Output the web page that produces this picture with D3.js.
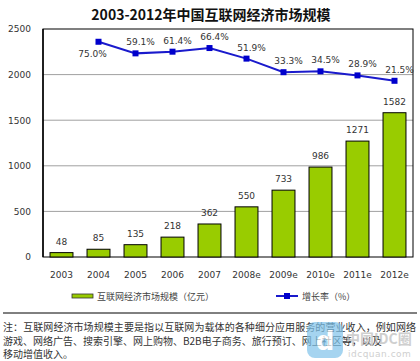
<!DOCTYPE html>
<html>
<head>
<meta charset="utf-8">
<script src="https://cdn.jsdelivr.net/npm/d3@7"></script>
<style>
  body { margin: 0; background: #fff; }
  text { font-family: "DejaVu Sans", "Noto Sans CJK SC", sans-serif; }
  .cjk { font-family: "Noto Sans CJK SC", sans-serif; }
</style>
</head>
<body>
<script>
let years = ["2003","2004","2005","2006","2007","2008e","2009e","2010e","2011e","2012e"];
let marketSize = [48,85,135,218,362,550,733,986,1271,1582];
let growthYears = ["2004","2005","2006","2007","2008e","2009e","2010e","2011e","2012e"];
let growthRate = [75.0,59.1,61.4,66.4,51.9,33.3,34.5,28.9,21.5];
let yTicks = [0,500,1000,1500,2000,2500];

const width = 420, height = 361;
const plotLeft = 43, plotRight = 413, plotTop = 29, plotBottom = 257;

const svg = d3.select("body").append("svg")
  .attr("width", width)
  .attr("height", height);

svg.append("text")
  .attr("class", "cjk")
  .attr("x", 211)
  .attr("y", 20)
  .attr("text-anchor", "middle")
  .attr("font-size", "14px")
  .attr("font-weight", "bold")
  .attr("fill", "#111")
  .text("2003-2012年中国互联网经济市场规模");

const x = d3.scaleBand().domain(years).range([plotLeft, plotRight]).paddingInner(0.38).paddingOuter(0.19);
const y = d3.scaleLinear().domain([0, 2500]).range([plotBottom, plotTop]);
// hidden secondary axis for the growth rate
const y2 = d3.scaleLinear().domain([-220, 92.5]).range([plotBottom, plotTop]);

// grid lines
svg.append("g")
  .selectAll("line")
  .data(yTicks.slice(1, -1))
  .enter()
  .append("line")
  .attr("x1", plotLeft).attr("x2", plotRight)
  .attr("y1", d => y(d)).attr("y2", d => y(d))
  .attr("stroke", "#a0a0a0")
  .attr("stroke-width", 1);

// plot frame
svg.append("rect")
  .attr("x", plotLeft).attr("y", plotTop)
  .attr("width", plotRight - plotLeft).attr("height", plotBottom - plotTop)
  .attr("fill", "none")
  .attr("stroke", "#000")
  .attr("stroke-width", 1);
svg.append("line")
  .attr("x1", plotLeft).attr("x2", plotLeft).attr("y1", plotTop).attr("y2", plotBottom)
  .attr("stroke", "#000").attr("stroke-width", 1.5);

// y axis labels
const yAxis = svg.append("g")
  .attr("transform", "translate(" + (plotLeft - 12) + ",0)")
  .call(d3.axisLeft(y).tickValues(yTicks).tickFormat(d3.format("d")).tickSize(0).tickPadding(0));
yAxis.select(".domain").remove();
yAxis.selectAll("text").attr("font-size", "9px").attr("fill", "#333");

// x axis labels
const xAxis = svg.append("g")
  .attr("transform", "translate(0," + plotBottom + ")")
  .call(d3.axisBottom(x).tickSize(0).tickPadding(15));
xAxis.select(".domain").remove();
xAxis.selectAll("text").attr("font-size", "9px").attr("fill", "#333");

// bars
svg.selectAll("rect.bar")
  .data(marketSize)
  .enter()
  .append("rect")
  .attr("class", "bar")
  .attr("x", (d, i) => x(years[i]))
  .attr("y", d => y(d))
  .attr("width", x.bandwidth())
  .attr("height", d => plotBottom - y(d))
  .attr("fill", "#99cc00")
  .attr("stroke", "#000")
  .attr("stroke-width", 1);

svg.selectAll("text.barlabel")
  .data(marketSize)
  .enter()
  .append("text")
  .attr("class", "barlabel")
  .attr("x", (d, i) => x(years[i]) + x.bandwidth() / 2)
  .attr("y", d => y(d) - 8)
  .attr("text-anchor", "middle")
  .attr("font-size", "9px")
  .attr("fill", "#333")
  .text(d => d);

// growth line
const cx = (d, i) => x(growthYears[i]) + x.bandwidth() / 2;
const line = d3.line()
  .x(cx)
  .y(d => y2(d));

svg.append("path")
  .datum(growthRate)
  .attr("d", line)
  .attr("fill", "none")
  .attr("stroke", "#1a1acc")
  .attr("stroke-width", 2);

svg.selectAll("rect.marker")
  .data(growthRate)
  .enter()
  .append("rect")
  .attr("class", "marker")
  .attr("x", (d, i) => cx(d, i) - 3)
  .attr("y", d => y2(d) - 3)
  .attr("width", 6)
  .attr("height", 6)
  .attr("fill", "#0000cc");

svg.selectAll("text.ratelabel")
  .data(growthRate)
  .enter()
  .append("text")
  .attr("class", "ratelabel")
  .attr("x", (d, i) => cx(d, i) + (i === 0 ? -6 : 5))
  .attr("y", (d, i) => i === 0 ? y2(d) + 15 : y2(d) - 8)
  .attr("text-anchor", "middle")
  .attr("font-size", "9px")
  .attr("fill", "#333")
  .text(d => d.toFixed(1) + "%");

// legend
svg.append("rect")
  .attr("x", 72).attr("y", 294)
  .attr("width", 21).attr("height", 4)
  .attr("fill", "#99cc00")
  .attr("stroke", "#333")
  .attr("stroke-width", 0.8);
svg.append("text")
  .attr("class", "cjk")
  .attr("x", 97).attr("y", 300)
  .attr("font-size", "9px")
  .attr("fill", "#444")
  .text("互联网经济市场规模（亿元）");

svg.append("line")
  .attr("x1", 276).attr("x2", 298)
  .attr("y1", 296).attr("y2", 296)
  .attr("stroke", "#1a1acc").attr("stroke-width", 2);
svg.append("rect")
  .attr("x", 284).attr("y", 293)
  .attr("width", 6).attr("height", 6)
  .attr("fill", "#0000cc");
svg.append("text")
  .attr("class", "cjk")
  .attr("x", 302).attr("y", 300)
  .attr("font-size", "9px")
  .attr("fill", "#444")
  .text("增长率（%）");

// separator
svg.append("line")
  .attr("x1", 3).attr("x2", 417)
  .attr("y1", 313).attr("y2", 313)
  .attr("stroke", "#000").attr("stroke-width", 1);

// note
svg.append("text")
  .attr("class", "cjk")
  .attr("x", 3).attr("y", 331)
  .attr("font-size", "10px")
  .attr("fill", "#333")
  .attr("textLength", 413)
  .attr("lengthAdjust", "spacing")
  .text("注：互联网经济市场规模主要是指以互联网为载体的各种细分应用服务的营业收入，例如网络");
svg.append("text")
  .attr("class", "cjk")
  .attr("x", 3).attr("y", 345)
  .attr("font-size", "10px")
  .attr("fill", "#333")
  .text("游戏、网络广告、搜索引擎、网上购物、B2B电子商务、旅行预订、网上社区等，以及");
svg.append("text")
  .attr("class", "cjk")
  .attr("x", 3).attr("y", 358)
  .attr("font-size", "10px")
  .attr("fill", "#333")
  .text("移动增值收入。");

// watermark
const wm = svg.append("g").attr("opacity", 0.7);
wm.append("rect")
  .attr("x", 307).attr("y", 322)
  .attr("width", 36).attr("height", 36)
  .attr("rx", 8)
  .attr("fill", "#7fc3ea");
wm.append("text")
  .attr("x", 325).attr("y", 350)
  .attr("text-anchor", "middle")
  .attr("font-size", "26px")
  .attr("font-weight", "bold")
  .attr("fill", "#fff")
  .text("d");
wm.append("text")
  .attr("class", "cjk")
  .attr("x", 346).attr("y", 344)
  .attr("font-size", "14px")
  .attr("font-weight", "bold")
  .attr("fill", "#bbb")
  .text("中国IDC圈");
wm.append("text")
  .attr("x", 348).attr("y", 357)
  .attr("font-size", "9px")
  .attr("fill", "#bbb")
  .attr("letter-spacing", "0.5")
  .text("idcquan.com");
</script>
</body>
</html>
